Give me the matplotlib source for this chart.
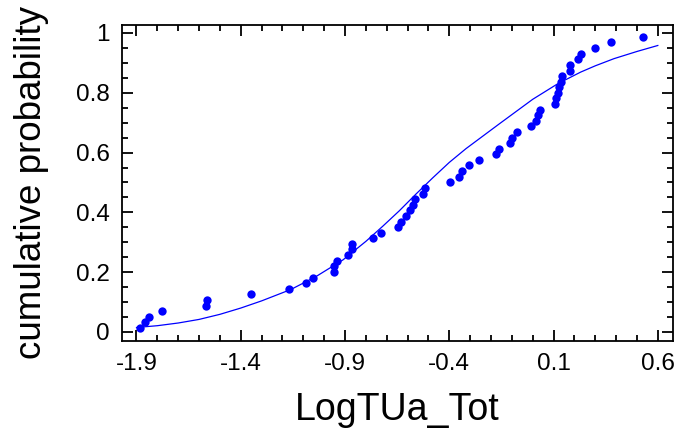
import matplotlib
matplotlib.use("Agg")
import matplotlib.pyplot as plt
from matplotlib.ticker import MultipleLocator

plt.rcParams['font.family'] = ['Liberation Sans', 'DejaVu Sans']

# sorted observations (LogTUa_Tot) and their plotted cumulative probabilities
log_tua = [-1.881, -1.860, -1.840, -1.777, -1.566, -1.561, -1.352, -1.169, -1.089, -1.053,
           -0.953, -0.953, -0.940, -0.886, -0.865, -0.865, -0.765, -0.729, -0.645, -0.630,
           -0.609, -0.590, -0.573, -0.565, -0.528, -0.515, -0.395, -0.353, -0.340, -0.305,
           -0.256, -0.176, -0.161, -0.109, -0.099, -0.077, -0.009, 0.016, 0.026, 0.035,
           0.106, 0.112, 0.120, 0.128, 0.136, 0.141, 0.181, 0.181, 0.218, 0.231,
           0.299, 0.374, 0.529]
cum_prob = [0.013, 0.032, 0.051, 0.069, 0.088, 0.107, 0.126, 0.144, 0.163, 0.182,
            0.201, 0.219, 0.238, 0.257, 0.276, 0.294, 0.313, 0.332, 0.351, 0.369,
            0.388, 0.407, 0.426, 0.444, 0.463, 0.482, 0.501, 0.519, 0.538, 0.557,
            0.575, 0.594, 0.613, 0.632, 0.650, 0.669, 0.688, 0.706, 0.725, 0.743,
            0.762, 0.781, 0.800, 0.818, 0.837, 0.856, 0.874, 0.893, 0.912, 0.931,
            0.949, 0.968, 0.987]

# fitted distribution curve
fit_x = [-1.90, -1.80, -1.70, -1.60, -1.50, -1.40, -1.30, -1.16, -1.04, -0.91,
         -0.80, -0.72, -0.64, -0.56, -0.48, -0.40, -0.32, -0.16, 0.00, 0.12,
         0.23, 0.30, 0.39, 0.50, 0.60]
fit_y = [0.015, 0.021, 0.030, 0.042, 0.059, 0.080, 0.104, 0.142, 0.185, 0.241,
         0.303, 0.353, 0.405, 0.461, 0.515, 0.567, 0.613, 0.696, 0.778, 0.830,
         0.869, 0.890, 0.914, 0.938, 0.958]

fig = plt.figure(figsize=(6.81, 4.36), dpi=100)
ax = fig.add_axes([0.179, 0.218, 0.809, 0.725])

ax.plot(fit_x, fit_y, color='#0000ff', lw=0.9)
ax.plot(log_tua, cum_prob, 'o', color='#0000ff', ms=6, mec='none')

ax.set_xlim(-1.97, 0.672)
ax.set_ylim(-0.03, 1.027)
ax.set_xticks([-1.9, -1.4, -0.9, -0.4, 0.1, 0.6])
ax.set_xticklabels(['-1.9', '-1.4', '-0.9', '-0.4', '0.1', '0.6'])
ax.set_yticks([0, 0.2, 0.4, 0.6, 0.8, 1.0])
ax.set_yticklabels(['0', '0.2', '0.4', '0.6', '0.8', '1'])
ax.xaxis.set_minor_locator(MultipleLocator(0.1))
ax.yaxis.set_minor_locator(MultipleLocator(0.05))

ax.tick_params(which='both', direction='in', top=True, right=True, width=1.3,
               labelsize=17.5, pad=9)
ax.tick_params(which='major', length=8)
ax.tick_params(which='minor', length=4)
for s in ax.spines.values():
    s.set_linewidth(1.3)

ax.set_xlabel('LogTUa_Tot', fontsize=27, labelpad=12)
ax.set_ylabel('cumulative probability', fontsize=26.5, labelpad=19)

fig.savefig('out.png', dpi=100)
